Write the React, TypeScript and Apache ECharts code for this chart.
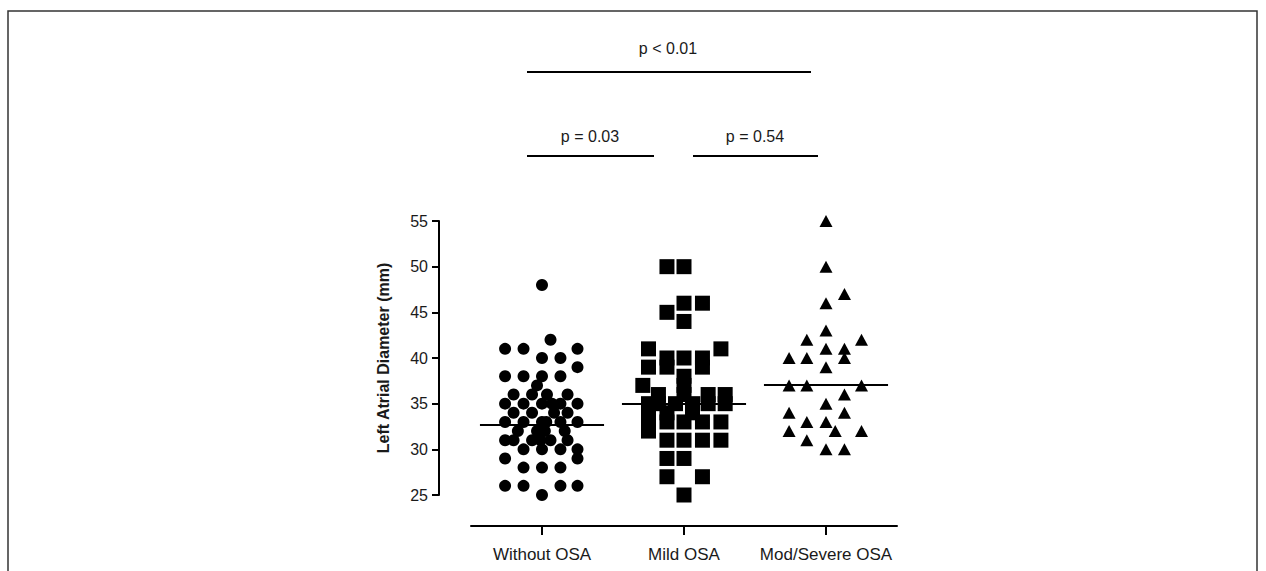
import React, { useEffect, useRef } from "react";
import * as echarts from "echarts";

const categories = ["Without OSA", "Mild OSA", "Mod/Severe OSA"];
const yTicks = { min: 25, max: 55, interval: 5 };

// Without OSA (circles)
const withoutOsaLAD = [
  48, 42, 41, 41, 41, 40, 40, 39, 38, 38, 38, 38, 37, 36, 36, 36, 36,
  35, 35, 35, 35, 35, 35, 34, 34, 34, 34, 33, 33, 33, 33, 33, 33,
  32, 32, 32, 32, 31, 31, 31, 31, 31, 31, 30, 30, 30, 30, 29, 29,
  28, 28, 28, 26, 26, 26, 26, 25,
];
const withoutOsaJitter = [
  0, 0.06, -0.26, -0.13, 0.25, 0, 0.13, 0.25, -0.26, -0.13, 0, 0.13, -0.035, -0.2, -0.07, 0.035, 0.18,
  -0.26, -0.13, 0, 0.07, 0.13, 0.25, -0.2, -0.07, 0.085, 0.18, -0.26, -0.13, 0, 0.13, 0.25, 0.03,
  -0.17, -0.035, 0.02, 0.16, -0.26, -0.2, -0.07, 0.06, 0.18, -0.01, -0.13, 0, 0.13, 0.25, -0.26, 0.25,
  -0.13, 0, 0.13, -0.26, -0.13, 0.13, 0.25, 0,
];

// Mild OSA (squares)
const mildOsaLAD = [
  50, 50, 46, 46, 45, 44, 41, 41, 40, 40, 40, 39, 39, 39, 38, 37, 37,
  36, 36, 36, 36, 35, 35, 35, 35, 35, 35, 34, 34, 34,
  33, 33, 33, 33, 33, 32, 31, 31, 31, 31, 29, 29, 27, 27, 25,
];
const mildOsaJitter = [
  -0.12, 0, 0, 0.13, -0.12, 0, -0.25, 0.26, -0.12, 0, 0.13, -0.25, -0.12, 0.13, 0, -0.29, 0,
  -0.18, 0, 0.17, 0.29, -0.25, -0.18, -0.06, 0.06, 0.17, 0.29, -0.25, -0.12, 0.06,
  -0.25, -0.12, 0, 0.13, 0.26, -0.25, -0.12, 0, 0.13, 0.26, -0.12, 0, -0.12, 0.13, 0,
];

// Mod/Severe OSA (triangles)
const severeOsaLAD = [
  55, 50, 47, 46, 43, 42, 42, 41, 41, 40, 40, 40, 39, 37, 37, 37, 36, 35,
  34, 34, 33, 33, 32, 32, 32, 31, 30, 30,
];
const severeOsaJitter = [
  0, 0, 0.13, 0, 0, -0.135, 0.25, 0, 0.13, -0.26, -0.135, 0.13, 0, -0.26, -0.135, 0.25, 0.13, 0,
  -0.26, 0.13, -0.135, 0, -0.26, 0.065, 0.25, -0.135, 0, 0.13,
];

const medians = [32.7, 35, 37.1];
const pLabels = ["p < 0.01", "p = 0.03", "p = 0.54"];

const FONT = "Liberation Sans, Arial, sans-serif";

export default function App() {
  const ref = useRef<HTMLDivElement>(null);
  useEffect(() => {
    if (!ref.current) return;
    const chart = echarts.init(ref.current, null, { renderer: "svg" });
    const groups = [
      { v: withoutOsaLAD, j: withoutOsaJitter, symbol: "circle", size: 12 },
      { v: mildOsaLAD, j: mildOsaJitter, symbol: "rect", size: 15 },
      { v: severeOsaLAD, j: severeOsaJitter, symbol: "triangle", size: [13, 12] },
    ];
    const halfLine = 0.437;
    const series = groups.map((g, gi) => ({
      type: "scatter",
      xAxisIndex: 1,
      yAxisIndex: 0,
      symbol: g.symbol,
      symbolSize: g.size,
      itemStyle: { color: "#000", opacity: 1 },
      data: g.v.map((val, i) => [gi + 0.5 + g.j[i], val]),
      markLine: {
        silent: true,
        symbol: "none",
        label: { show: false },
        lineStyle: { color: "#000", width: 2, type: "solid" },
        data: [
          [
            { coord: [gi + 0.5 - halfLine, medians[gi]] },
            { coord: [gi + 0.5 + halfLine, medians[gi]] },
          ],
        ],
      },
    }));

    const lineStyle = { stroke: "#000", lineWidth: 2 };
    const textStyle = (t: string, x: number, y: number) => ({
      type: "text",
      x,
      y,
      style: {
        text: t,
        fill: "#1a1a1a",
        font: `16px ${FONT}`,
        textAlign: "center",
        textVerticalAlign: "middle",
      },
    });

    chart.setOption({
      animation: false,
      backgroundColor: "#fff",
      grid: { left: 471, top: 221, width: 426, height: 274 },
      xAxis: [
        {
          type: "category",
          data: categories,
          offset: 31,
          axisLine: { show: true, onZero: false, lineStyle: { color: "#000", width: 2 } },
          axisTick: { show: true, alignWithLabel: true, length: 9, lineStyle: { color: "#000", width: 2 } },
          axisLabel: { color: "#1a1a1a", fontSize: 17, fontFamily: FONT, margin: 20, interval: 0, hideOverlap: false },
          splitLine: { show: false },
        },
        { type: "value", min: 0, max: 3, show: false },
      ],
      yAxis: [
        {
          type: "value",
          min: yTicks.min,
          max: yTicks.max,
          interval: yTicks.interval,
          offset: 32,
          name: "Left Atrial Diameter (mm)",
          nameLocation: "middle",
          nameGap: 48,
          nameTextStyle: { color: "#1a1a1a", fontSize: 16, fontWeight: "bold", fontFamily: FONT },
          axisLine: { show: true, onZero: false, lineStyle: { color: "#000", width: 2 } },
          axisTick: { show: true, length: 7, lineStyle: { color: "#000", width: 2 } },
          axisLabel: { color: "#1a1a1a", fontSize: 16, fontFamily: FONT, margin: 11 },
          splitLine: { show: false },
        },
      ],
      series,
      graphic: [
        {
          type: "rect",
          shape: { x: 8, y: 11, width: 1249, height: 620 },
          style: { fill: "none", stroke: "#333", lineWidth: 1.5 },
          silent: true,
        },
        textStyle(pLabels[0], 668, 48),
        { type: "line", shape: { x1: 527, y1: 72, x2: 811, y2: 72 }, style: lineStyle },
        textStyle(pLabels[1], 590, 136),
        { type: "line", shape: { x1: 527, y1: 156, x2: 654, y2: 156 }, style: lineStyle },
        textStyle(pLabels[2], 755, 136),
        { type: "line", shape: { x1: 693, y1: 156, x2: 818, y2: 156 }, style: lineStyle },
      ],
    });
    return () => chart.dispose();
  }, []);
  return (
    <div
      ref={ref}
      style={{ position: "absolute", left: 0, top: 0, width: 1266, height: 571 }}
    />
  );
}
